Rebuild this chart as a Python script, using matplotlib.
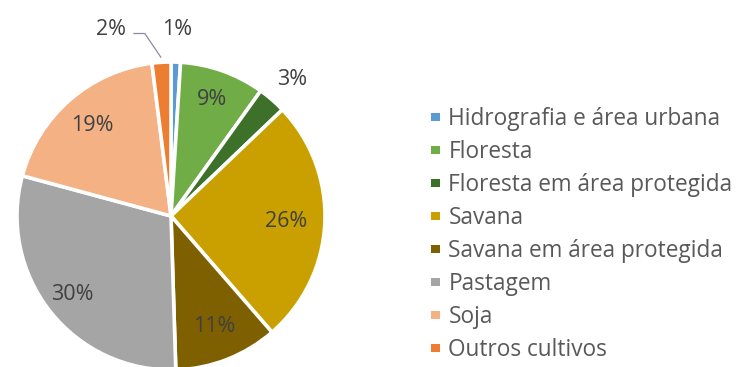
import numpy as np
import matplotlib
matplotlib.use("Agg")
import matplotlib.pyplot as plt
from matplotlib.patches import Rectangle

categories = [
    "Hidrografia e área urbana",
    "Floresta",
    "Floresta em área protegida",
    "Savana",
    "Savana em área protegida",
    "Pastagem",
    "Soja",
    "Outros cultivos",
]
shares = [1, 9, 3, 26, 11, 30, 19, 2]
colors = ["#5B9BD5", "#70AD47", "#3D7029", "#C9A000",
          "#7F6000", "#A5A5A5", "#F4B183", "#ED7D31"]

plt.rcParams["font.family"] = ["Open Sans", "DejaVu Sans"]

W, H = 738, 367
fig = plt.figure(figsize=(W / 100, H / 100), dpi=100)
ax = fig.add_axes([0, 0, 1, 1])

R_PX = 154.0
cx, cy = 171.0, 151.0

wedges, _ = ax.pie(
    shares, colors=colors, startangle=90, counterclock=False,
    radius=1.0, wedgeprops=dict(edgecolor="white", linewidth=2.6),
)
ax.set_xlim(-cx / R_PX, (W - cx) / R_PX)
ax.set_ylim(-cy / R_PX, (H - cy) / R_PX)
ax.set_aspect("equal", adjustable="box")
ax.axis("off")

label_color = "#404040"
fs = 15.5
inside = {1: 0.80, 3: 0.75, 4: 0.77, 5: 0.82, 6: 0.78}
for i, (w, v) in enumerate(zip(wedges, shares)):
    mid = np.deg2rad((w.theta1 + w.theta2) / 2)
    txt = f"{v}%"
    if i in inside:
        r = inside[i]
        ax.text(r * np.cos(mid), r * np.sin(mid), txt, ha="center",
                va="center", fontsize=fs, color=label_color)
    elif i == 2:
        ax.text(1.17 * np.cos(mid) + 0.02, 1.17 * np.sin(mid), txt,
                ha="center", va="center", fontsize=fs, color=label_color)
    elif i == 0:
        ax.text(0.04, 1.21, txt, ha="center", va="center",
                fontsize=fs, color=label_color)
    elif i == 7:
        ax.text(-0.39, 1.21, txt, ha="center", va="center",
                fontsize=fs, color=label_color)
        # leader line from the label down to the thin slice
        tip = (1.03 * np.cos(mid), 1.03 * np.sin(mid))
        ax.plot([-0.245, -0.17, tip[0]], [1.185, 1.185, tip[1]],
                color="#8A8AA8", lw=0.9, solid_capstyle="butt")

# legend: one row per category, fixed pixel pitch
leg_x, leg_top, pitch, box = 431, 117, 33, 8.5
for k, (name, c) in enumerate(zip(categories, colors)):
    yc = leg_top + pitch * k
    fig.patches.append(Rectangle(((leg_x) / W, 1 - (yc + box / 2) / H),
                                 box / W, box / H, facecolor=c,
                                 edgecolor="none",
                                 transform=fig.transFigure, figure=fig))
    fig.text((leg_x + box + 9) / W, 1 - (yc + 8) / H, name,
             ha="left", va="baseline", fontsize=16.3, color="#595959")

fig.savefig("out.png", dpi=100)
